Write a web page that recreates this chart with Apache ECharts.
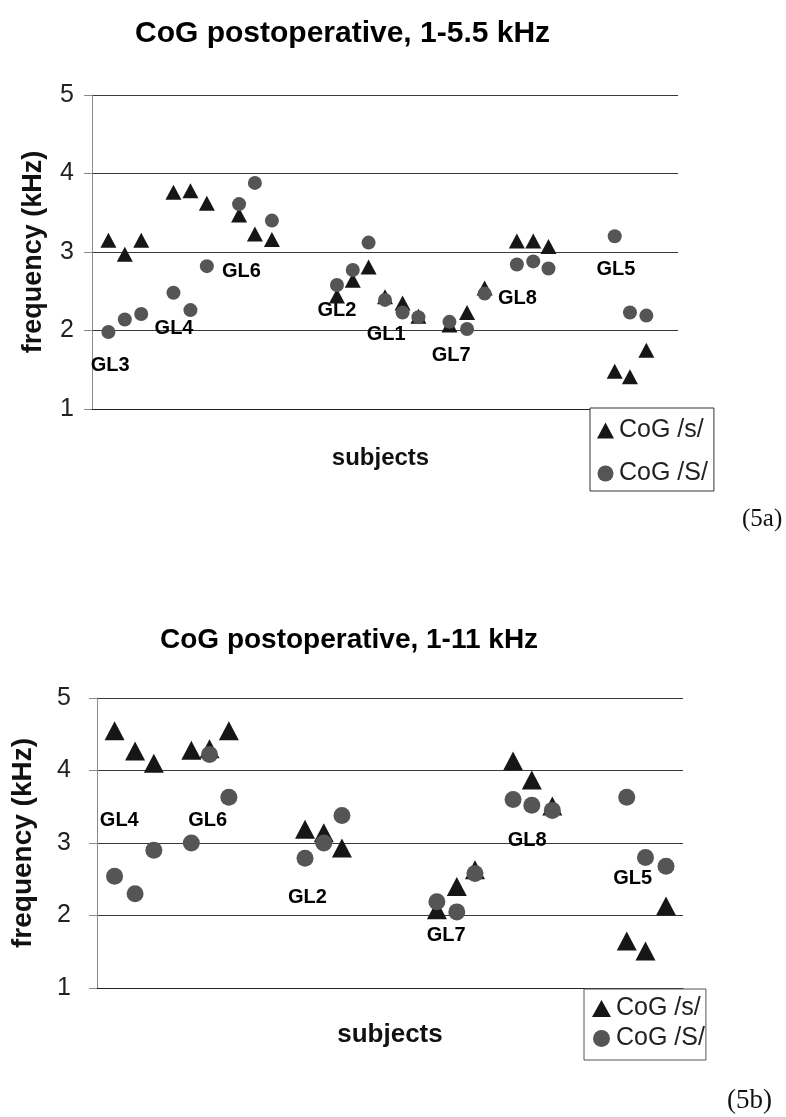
<!DOCTYPE html>
<html>
<head>
<meta charset="utf-8">
<script src="https://cdn.jsdelivr.net/npm/echarts@6/dist/echarts.min.js"></script>
<style>
html,body{margin:0;padding:0;background:#fff;}
#chart{width:786px;height:1117px;}
</style>
</head>
<body>
<div id="chart"></div>
<script>
// ---- data: chart (5a) CoG postoperative, 1-5.5 kHz ----
const yTicks = [1, 2, 3, 4, 5];
const topX  = [2.8, 5.6, 8.4, 13.9, 16.8, 19.6, 25.1, 27.8, 30.7, 41.8, 44.5, 47.2, 50.0, 53.0, 55.7, 61.0, 64.0, 67.0, 72.5, 75.3, 77.9, 89.2, 91.8, 94.6];
const topS  = [3.15, 2.97, 3.15, 3.76, 3.78, 3.62, 3.47, 3.23, 3.16, 2.44, 2.64, 2.81, 2.43, 2.35, 2.18, 2.07, 2.23, 2.54, 3.14, 3.14, 3.07, 1.48, 1.41, 1.75];
const topSh = [1.98, 2.14, 2.21, 2.48, 2.26, 2.82, 3.61, 3.88, 3.40, 2.58, 2.77, 3.12, 2.39, 2.23, 2.17, 2.11, 2.02, 2.47, 2.84, 2.88, 2.79, 3.20, 2.23, 2.19];
const topLabelNames = ['GL3', 'GL4', 'GL6', 'GL2', 'GL1', 'GL7', 'GL8', 'GL5'];
const topLabelX = [3.1, 14.0, 25.5, 41.8, 50.2, 61.3, 72.6, 89.4];
const topLabelY = [1.56, 2.03, 2.75, 2.26, 1.95, 1.68, 2.41, 2.78];

// ---- data: chart (5b) CoG postoperative, 1-11 kHz ----
const botX  = [3.0, 6.5, 9.7, 16.1, 19.2, 22.5, 35.5, 38.7, 41.8, 58.0, 61.4, 64.5, 71.0, 74.2, 77.7, 90.4, 93.6, 97.1];
const botS  = [4.55, 4.27, 4.10, 4.28, 4.30, 4.55, 3.19, 3.14, 2.93, 2.08, 2.40, 2.63, 4.13, 3.87, 3.51, 1.65, 1.51, 2.13];
const botSh = [2.54, 2.30, 2.90, 3.00, 4.22, 3.63, 2.79, 3.00, 3.38, 2.19, 2.05, 2.58, 3.60, 3.52, 3.45, 3.63, 2.80, 2.68];
const botLabelNames = ['GL4', 'GL6', 'GL2', 'GL7', 'GL8', 'GL5'];
const botLabelX = [3.8, 18.9, 35.9, 59.6, 73.4, 91.4];
const botLabelY = [3.31, 3.31, 2.25, 1.73, 3.04, 2.51];

const seriesNames = ['CoG /s/', 'CoG /S/'];
const titles = ['CoG postoperative, 1-5.5 kHz', 'CoG postoperative, 1-11 kHz'];
const panelTags = ['(5a)', '(5b)'];

const FONT = 'Liberation Sans, Arial, sans-serif';
const TRI = '#161616';
const CIR = '#555555';

function pts(xs, ys) { return xs.map((x, i) => [x, ys[i]]); }
function labs(names, xs, ys) { return names.map((n, i) => ({ name: n, value: [xs[i], ys[i]] })); }

function yAxisCfg(gridIndex, nameSize, nameGap, labelMargin) {
  return {
    gridIndex, type: 'value', min: yTicks[0], max: yTicks[yTicks.length - 1], interval: 1,
    name: 'frequency (kHz)', nameLocation: 'middle', nameGap,
    nameTextStyle: { fontFamily: FONT, fontWeight: 'bold', fontSize: nameSize, color: '#111' },
    axisLine: { show: true, lineStyle: { color: '#888', width: 1 } },
    axisTick: { show: true, length: 8, lineStyle: { color: '#888' } },
    axisLabel: { fontFamily: FONT, fontSize: 25, color: '#222', margin: labelMargin },
    splitLine: { show: true, lineStyle: { color: '#3a3a3a', width: 1 } }
  };
}
function xAxisCfg(gridIndex, nameSize, nameGap, pad) {
  return {
    gridIndex, type: 'value', min: 0, max: 100,
    name: 'subjects', nameLocation: 'middle', nameGap,
    nameTextStyle: { fontFamily: FONT, fontWeight: 'bold', fontSize: nameSize, color: '#111', padding: pad },
    axisLine: { show: true, onZero: false, lineStyle: { color: '#222', width: 1 } },
    axisTick: { show: false }, axisLabel: { show: false }, splitLine: { show: false }
  };
}
function labelSeries(idx, data) {
  return {
    type: 'scatter', name: 'labels' + idx, xAxisIndex: idx, yAxisIndex: idx,
    symbolSize: 1, itemStyle: { color: 'rgba(0,0,0,0)', opacity: 1 }, z: 1,
    label: { show: true, position: 'inside', formatter: '{b}', fontFamily: FONT, fontWeight: 'bold', fontSize: 20, color: '#000' },
    data, silent: true
  };
}

const chart = echarts.init(document.getElementById('chart'), null, { renderer: 'canvas' });
chart.setOption({
  animation: false,
  backgroundColor: '#fff',
  title: [
    { text: titles[0], left: 130, top: 14, textStyle: { fontFamily: FONT, fontWeight: 'bold', fontSize: 30, lineHeight: 30, color: '#000' } },
    { text: titles[1], left: 155, top: 621, textStyle: { fontFamily: FONT, fontWeight: 'bold', fontSize: 28, lineHeight: 28, color: '#000' } }
  ],
  grid: [
    { left: 92, top: 95, width: 586, height: 314 },
    { left: 97, top: 698, width: 586, height: 290 }
  ],
  xAxis: [xAxisCfg(0, 24, 37, [0, 9, 0, 0]), xAxisCfg(1, 26, 34, [0, 0, 0, 0])],
  yAxis: [yAxisCfg(0, 27, 45, 18), yAxisCfg(1, 28, 60, 26)],
  legend: [
    { data: seriesNames, orient: 'vertical', left: 590, top: 408, padding: [10, 6, 5, 7], itemGap: 18,
      itemWidth: 17, itemHeight: 16, backgroundColor: '#fff', borderColor: '#333', borderWidth: 1, borderRadius: 0,
      textStyle: { fontFamily: FONT, fontSize: 25, color: '#222' }, selectedMode: false },
    { data: seriesNames, orient: 'vertical', left: 584, top: 989, padding: [7, 1, 9, 8], itemGap: 5,
      itemWidth: 19, itemHeight: 17, backgroundColor: '#fff', borderColor: '#555', borderWidth: 1, borderRadius: 0,
      textStyle: { fontFamily: FONT, fontSize: 25, color: '#222' }, selectedMode: false }
  ],
  graphic: [
    { type: 'text', left: 742, top: 507, style: { text: panelTags[0], font: '25px "Liberation Serif", "Times New Roman", serif', fill: '#111' } },
    { type: 'text', left: 727, top: 1087, style: { text: panelTags[1], font: '27px "Liberation Serif", "Times New Roman", serif', fill: '#111' } }
  ],
  series: [
    { type: 'scatter', name: seriesNames[0], xAxisIndex: 0, yAxisIndex: 0, symbol: 'triangle', symbolSize: [16, 15],
      itemStyle: { color: TRI, opacity: 1 }, data: pts(topX, topS), z: 2 },
    { type: 'scatter', name: seriesNames[1], xAxisIndex: 0, yAxisIndex: 0, symbol: 'circle', symbolSize: 14,
      itemStyle: { color: CIR, opacity: 1 }, data: pts(topX, topSh), z: 3 },
    labelSeries(0, labs(topLabelNames, topLabelX, topLabelY)),
    { type: 'scatter', name: seriesNames[0], xAxisIndex: 1, yAxisIndex: 1, symbol: 'triangle', symbolSize: [20, 19],
      itemStyle: { color: TRI, opacity: 1 }, data: pts(botX, botS), z: 2 },
    { type: 'scatter', name: seriesNames[1], xAxisIndex: 1, yAxisIndex: 1, symbol: 'circle', symbolSize: 17,
      itemStyle: { color: CIR, opacity: 1 }, data: pts(botX, botSh), z: 3 },
    labelSeries(1, labs(botLabelNames, botLabelX, botLabelY))
  ]
});
</script>
</body>
</html>
